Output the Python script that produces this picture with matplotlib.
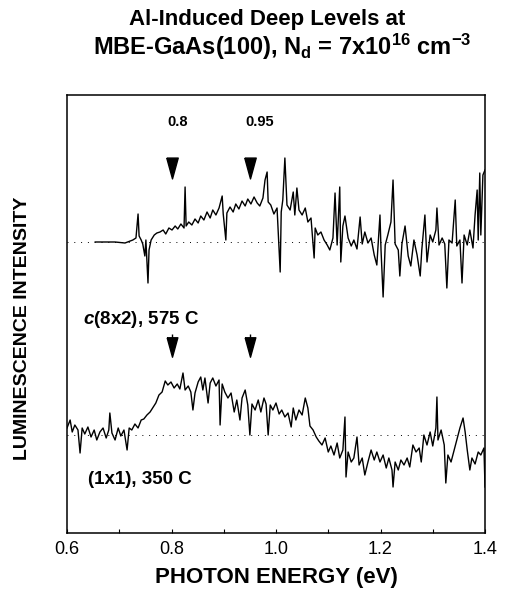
import matplotlib
matplotlib.use("Agg")
import numpy as np
import matplotlib.pyplot as plt
from matplotlib.path import Path as MPath

# photon energy (eV) and offset-stacked luminescence (arb. units)
e_c8x2 = [0.654, 0.673, 0.692, 0.711, 0.721, 0.726, 0.732, 0.736, 0.738, 0.742,
          0.745, 0.749, 0.751, 0.755, 0.757, 0.761, 0.767, 0.772, 0.778, 0.784,
          0.789, 0.795, 0.801, 0.807, 0.812, 0.818, 0.824, 0.826, 0.828, 0.833,
          0.839, 0.845, 0.851, 0.856, 0.862, 0.868, 0.874, 0.879, 0.885, 0.891,
          0.897, 0.899, 0.904, 0.906, 0.912, 0.918, 0.923, 0.929, 0.935, 0.941,
          0.946, 0.952, 0.958, 0.964, 0.969, 0.975, 0.979, 0.983, 0.985, 0.990,
          0.996, 1.002, 1.008, 1.010, 1.013, 1.017, 1.021, 1.027, 1.033, 1.036,
          1.040, 1.044, 1.050, 1.056, 1.061, 1.067, 1.073, 1.075, 1.080, 1.086,
          1.092, 1.098, 1.103, 1.109, 1.113, 1.117, 1.122, 1.124, 1.128, 1.132,
          1.138, 1.144, 1.149, 1.155, 1.161, 1.165, 1.170, 1.176, 1.182, 1.188,
          1.193, 1.199, 1.201, 1.205, 1.209, 1.214, 1.220, 1.224, 1.228, 1.234,
          1.237, 1.241, 1.247, 1.253, 1.258, 1.264, 1.270, 1.276, 1.279, 1.285,
          1.289, 1.295, 1.300, 1.306, 1.308, 1.312, 1.318, 1.323, 1.327, 1.331,
          1.337, 1.343, 1.346, 1.352, 1.356, 1.360, 1.366, 1.371, 1.377, 1.381,
          1.385, 1.387, 1.390, 1.392, 1.396, 1.400]
i_c8x2 = [291, 291, 291, 290, 292, 293, 295, 319, 297, 293,
          289, 277, 293, 250, 283, 293, 298, 300, 301, 303,
          299, 305, 303, 307, 304, 309, 305, 346, 307, 311,
          308, 314, 310, 317, 313, 321, 315, 323, 318, 325,
          337, 319, 293, 320, 326, 321, 329, 324, 332, 327,
          334, 329, 336, 330, 327, 335, 353, 361, 331, 328,
          319, 325, 261, 321, 333, 375, 328, 323, 341, 318,
          345, 323, 318, 325, 311, 315, 275, 305, 298, 301,
          293, 288, 283, 295, 340, 288, 346, 271, 307, 317,
          295, 287, 293, 284, 316, 289, 301, 290, 295, 278,
          268, 318, 283, 236, 288, 298, 311, 353, 289, 283,
          257, 289, 307, 277, 267, 293, 278, 257, 283, 318,
          271, 298, 291, 303, 325, 288, 295, 289, 245, 293,
          290, 333, 287, 293, 250, 298, 288, 303, 285, 318,
          343, 293, 360, 298, 358, 363]

e_1x1 = [0.600, 0.606, 0.610, 0.615, 0.621, 0.625, 0.629, 0.634, 0.640, 0.646,
         0.652, 0.657, 0.663, 0.669, 0.675, 0.680, 0.682, 0.686, 0.692, 0.698,
         0.703, 0.709, 0.715, 0.719, 0.724, 0.730, 0.736, 0.742, 0.747, 0.753,
         0.759, 0.765, 0.770, 0.776, 0.782, 0.788, 0.793, 0.799, 0.805, 0.811,
         0.816, 0.822, 0.826, 0.832, 0.837, 0.841, 0.845, 0.851, 0.856, 0.860,
         0.864, 0.870, 0.874, 0.879, 0.885, 0.891, 0.893, 0.897, 0.902, 0.908,
         0.914, 0.920, 0.925, 0.931, 0.935, 0.941, 0.946, 0.950, 0.954, 0.960,
         0.966, 0.971, 0.977, 0.981, 0.985, 0.989, 0.994, 1.000, 1.006, 1.011,
         1.017, 1.023, 1.029, 1.033, 1.038, 1.044, 1.050, 1.056, 1.061, 1.065,
         1.071, 1.077, 1.082, 1.088, 1.094, 1.100, 1.105, 1.111, 1.117, 1.122,
         1.128, 1.132, 1.134, 1.138, 1.144, 1.149, 1.155, 1.159, 1.165, 1.170,
         1.176, 1.182, 1.188, 1.193, 1.199, 1.205, 1.211, 1.216, 1.222, 1.224,
         1.228, 1.234, 1.239, 1.245, 1.251, 1.256, 1.262, 1.268, 1.274, 1.278,
         1.283, 1.289, 1.295, 1.300, 1.306, 1.308, 1.310, 1.316, 1.322, 1.325,
         1.329, 1.335, 1.341, 1.346, 1.352, 1.358, 1.362, 1.366, 1.371, 1.375,
         1.381, 1.387, 1.392, 1.398, 1.400]
i_1x1 = [105, 113, 101, 108, 103, 80, 105, 99, 106, 96,
         103, 93, 101, 105, 95, 103, 120, 100, 93, 105,
         97, 103, 83, 105, 103, 109, 105, 113, 114, 118,
         121, 126, 130, 138, 141, 152, 148, 151, 145, 149,
         144, 160, 143, 147, 141, 123, 140, 151, 156, 143,
         155, 130, 150, 155, 147, 153, 108, 149, 141, 135,
         140, 121, 133, 113, 135, 143, 128, 98, 129, 123,
         133, 121, 135, 129, 98, 128, 123, 130, 119, 123,
         116, 120, 106, 125, 113, 123, 118, 135, 125, 107,
         103, 96, 92, 88, 95, 81, 87, 78, 90, 75,
         83, 116, 56, 81, 71, 75, 96, 68, 75, 58,
         71, 83, 73, 81, 71, 78, 65, 75, 63, 46,
         71, 63, 73, 68, 75, 66, 88, 81, 85, 71,
         98, 88, 101, 87, 105, 136, 93, 103, 88, 50,
         78, 71, 83, 93, 105, 115, 101, 83, 63, 75,
         69, 81, 78, 85, 46]

zero_levels = [291, 98]
level_energies = [0.8, 0.95]
level_labels = ['0.8', '0.95']

plt.rcParams['font.family'] = ['Liberation Sans', 'DejaVu Sans']
plt.rcParams['mathtext.fontset'] = 'custom'
plt.rcParams['mathtext.rm'] = 'Liberation Sans:bold'
plt.rcParams['mathtext.bf'] = 'Liberation Sans:bold'
plt.rcParams['mathtext.it'] = 'Liberation Sans:bold:italic'

W, H = 507, 594
fig = plt.figure(figsize=(W / 100, H / 100), dpi=100)
ax = fig.add_axes([67 / W, 1 - 533 / H, (485 - 67) / W, (533 - 95) / H])

ax.plot(e_c8x2, i_c8x2, color='black', linewidth=1.0)
ax.plot(e_1x1, i_1x1, color='black', linewidth=1.0)
for lev in zero_levels:
    ax.axhline(lev, color='black', linewidth=0.7, linestyle=(0, (1, 6)))

# tall narrow down-pointing triangles
tri = MPath([(-0.55, 1.0), (0.55, 1.0), (0.0, -1.0), (-0.55, 1.0)])
ax.plot(level_energies, [365] * 2, linestyle='none', marker=tri, markersize=15, color='black')
ax.plot(level_energies, [186] * 2, linestyle='none', marker=tri, markersize=14, color='black')
ax.vlines(level_energies, 193, 199, color='black', linewidth=1)
ax.text(0.811, 411, level_labels[0], ha='center', va='center', fontsize=10.5, fontweight='bold')
ax.text(0.969, 411, level_labels[1], ha='center', va='center', fontsize=10.5, fontweight='bold')

ax.text(0.631, 213, r'$\mathit{c}$(8x2), 575 C', ha='left', va='center', fontsize=13.5, fontweight='bold')
ax.text(0.640, 53, '(1x1), 350 C', ha='left', va='center', fontsize=13.5, fontweight='bold')

ax.set_xlim(0.6, 1.4)
ax.set_ylim(0, 438)
ax.set_xticks([0.6, 0.8, 1.0, 1.2, 1.4], ['0.6', '0.8', '1.0', '1.2', '1.4'])
ax.set_xticks([0.7, 0.9, 1.1, 1.3], minor=True)
ax.set_yticks([])
ax.tick_params(axis='x', which='both', direction='in', length=3, width=0.8, labelsize=13, pad=6)
for s in ax.spines.values():
    s.set_linewidth(1.1)

fig.text(267 / W, 1 - 19 / H, 'Al-Induced Deep Levels at', ha='center', va='center',
         fontsize=16, fontweight='bold')
fig.text(282 / W, 1 - 47 / H, r'MBE-GaAs(100), N$_\mathrm{d}$ = 7x10$^\mathrm{16}$ cm$^\mathrm{-3}$',
         ha='center', va='center', fontsize=17, fontweight='bold')
fig.text(23 / W, 1 - 328 / H, 'LUMINESCENCE INTENSITY', rotation=90, ha='center', va='center',
         fontsize=14, fontweight='bold')
fig.text(276 / W, 1 - 577 / H, 'PHOTON ENERGY (eV)', ha='center', va='center',
         fontsize=16, fontweight='bold')

fig.savefig('out.png', dpi=100)
